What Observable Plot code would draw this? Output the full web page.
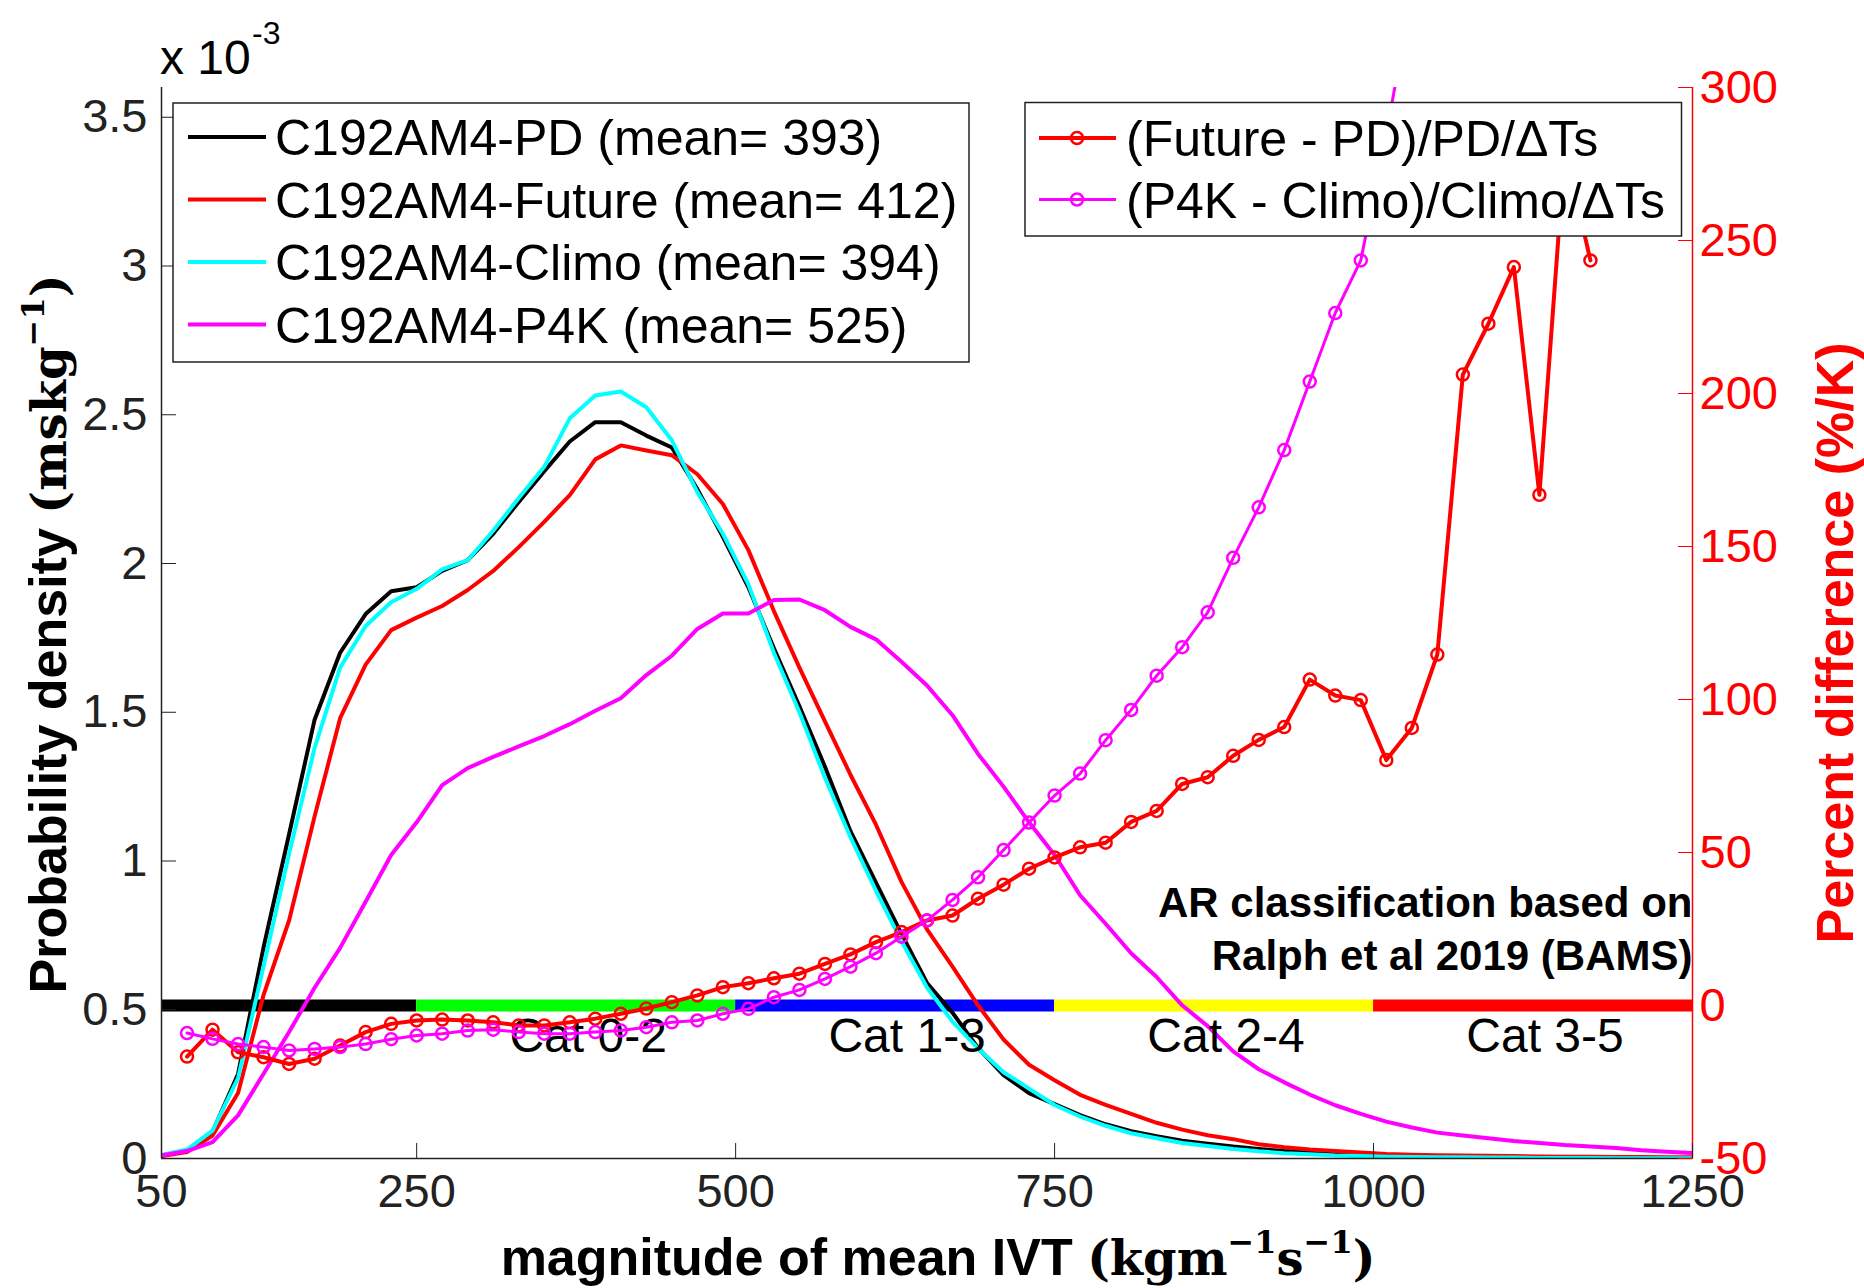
<!DOCTYPE html>
<html>
<head>
<meta charset="utf-8">
<script src="https://cdn.jsdelivr.net/npm/d3@7"></script>
<script src="https://cdn.jsdelivr.net/npm/@observablehq/plot@0.6"></script>
<style>
  html, body { margin: 0; padding: 0; background: #fff; }
  svg { display: block; }
</style>
</head>
<body>
<div id="chart"></div>
<script>
// ---------- data ----------
const ivt = [50, 70, 90, 110, 130, 150, 170, 190, 210, 230,
  250, 270, 290, 310, 330, 350, 370, 390, 410, 430,
  450, 470, 490, 510, 530, 550, 570, 590, 610, 630,
  650, 670, 690, 710, 730, 750, 770, 790, 810, 830,
  850, 870, 890, 910, 930, 950, 970, 990, 1010, 1030,
  1050, 1070, 1090, 1110, 1130, 1150, 1170, 1190, 1210, 1230, 1250];

// probability density (x 1e-3)
const densPD = [0.010, 0.025, 0.090, 0.284, 0.710, 1.090, 1.475, 1.700, 1.830, 1.907,
  1.920, 1.975, 2.011, 2.100, 2.207, 2.310, 2.410, 2.475, 2.475, 2.430,
  2.390, 2.250, 2.090, 1.920, 1.715, 1.520, 1.317, 1.100, 0.927, 0.755,
  0.590, 0.490, 0.372, 0.280, 0.220, 0.183, 0.146, 0.115, 0.092, 0.075,
  0.060, 0.050, 0.040, 0.032, 0.025, 0.020, 0.015, 0.012, 0.010, 0.008,
  0.007, 0.006, 0.005, 0.005, 0.004, 0.004, 0.003, 0.003, 0.002, 0.002, 0.002];
const densFuture = [0.008, 0.022, 0.077, 0.220, 0.550, 0.800, 1.150, 1.480, 1.660, 1.776,
  1.818, 1.857, 1.911, 1.975, 2.055, 2.140, 2.230, 2.350, 2.397, 2.380,
  2.364, 2.300, 2.200, 2.045, 1.840, 1.650, 1.469, 1.290, 1.122, 0.930,
  0.770, 0.645, 0.515, 0.400, 0.315, 0.263, 0.214, 0.180, 0.150, 0.120,
  0.097, 0.078, 0.065, 0.048, 0.038, 0.030, 0.025, 0.020, 0.015, 0.013,
  0.011, 0.010, 0.009, 0.008, 0.007, 0.006, 0.006, 0.005, 0.005, 0.004, 0.004];
const densClimo = [0.012, 0.030, 0.094, 0.270, 0.647, 1.024, 1.380, 1.650, 1.790, 1.870,
  1.915, 1.980, 2.011, 2.110, 2.220, 2.325, 2.488, 2.565, 2.578, 2.525,
  2.414, 2.240, 2.100, 1.930, 1.700, 1.500, 1.280, 1.080, 0.900, 0.730,
  0.575, 0.460, 0.370, 0.290, 0.235, 0.180, 0.141, 0.110, 0.085, 0.068,
  0.052, 0.042, 0.032, 0.024, 0.018, 0.014, 0.010, 0.008, 0.006, 0.005,
  0.004, 0.004, 0.003, 0.003, 0.002, 0.002, 0.002, 0.001, 0.001, 0.001, 0.001];
const densP4K = [0.010, 0.025, 0.055, 0.145, 0.285, 0.425, 0.574, 0.708, 0.863, 1.020,
  1.130, 1.255, 1.312, 1.350, 1.385, 1.420, 1.460, 1.505, 1.547, 1.625,
  1.690, 1.780, 1.832, 1.832, 1.877, 1.879, 1.843, 1.787, 1.745, 1.670,
  1.590, 1.490, 1.360, 1.250, 1.130, 1.020, 0.885, 0.789, 0.690, 0.610,
  0.515, 0.445, 0.360, 0.300, 0.256, 0.215, 0.179, 0.150, 0.124, 0.104,
  0.087, 0.077, 0.068, 0.059, 0.052, 0.045, 0.040, 0.035, 0.028, 0.023, 0.018];

const densityLabels = ["C192AM4-PD (mean= 393)", "C192AM4-Future (mean= 412)",
  "C192AM4-Climo (mean= 394)", "C192AM4-P4K (mean= 525)"];
const densityColors = ["#000000", "#ff0000", "#00ffff", "#ff00ff"];
const densityValues = [densPD, densFuture, densClimo, densP4K];

// percent difference (%/K)
const pctX = [70, 90, 110, 130, 150, 170, 190, 210, 230, 250,
  270, 290, 310, 330, 350, 370, 390, 410, 430, 450,
  470, 490, 510, 530, 550, 570, 590, 610, 630, 650,
  670, 690, 710, 730, 750, 770, 790, 810, 830, 850,
  870, 890, 910, 930, 950, 970, 990, 1010, 1030, 1050,
  1070, 1090, 1110, 1130, 1150, 1170];
const pctFuturePD = [-16.7, -7.9, -15.3, -16.9, -19.1, -17.4, -13.1, -8.7, -6.0, -4.9,
  -4.6, -4.9, -5.5, -6.5, -6.5, -5.5, -4.3, -2.7, -1.0, 1.1,
  3.3, 6.0, 7.3, 8.9, 10.4, 13.6, 16.7, 20.7, 24.0, 27.8,
  29.4, 34.9, 39.5, 44.7, 48.4, 51.7, 53.2, 60.0, 63.6, 72.4,
  74.6, 81.6, 86.8, 91.0, 106.5, 101.3, 99.8, 80.2, 90.7, 114.7,
  206.2, 222.8, 241.3, 166.9, 280.0, 243.5];
const pctP4KClimo = [-9.0, -10.9, -12.6, -13.6, -14.7, -14.2, -13.6, -12.6, -11.0, -9.8,
  -9.2, -8.2, -7.9, -8.7, -9.2, -9.2, -8.7, -8.2, -7.1, -5.5,
  -4.9, -2.7, -1.1, 2.7, 5.1, 8.7, 12.7, 17.1, 22.5, 27.8,
  34.5, 41.9, 50.8, 59.8, 68.6, 75.8, 86.7, 96.6, 107.8, 117.1,
  128.5, 146.3, 162.8, 181.5, 203.9, 226.3, 243.5, 285.0, 330.0];

const pctLabels = ["(Future - PD)/PD/\u0394Ts", "(P4K - Climo)/Climo/\u0394Ts"];
const pctColors = ["#ff0000", "#ff00ff"];
const pctValues = [pctFuturePD, pctP4KClimo];
const pctWidths = [4, 3];

// AR categories (Ralph et al. 2019)
const catStart = [50, 250, 500, 750, 1000];
const catEnd = [250, 500, 750, 1000, 1250];
const catColors = ["#000000", "#00ff00", "#0000ff", "#ffff00", "#ff0000"];
const catLabels = ["", "Cat 0-2", "Cat 1-3", "Cat 2-4", "Cat 3-5"];

// tick labels
const xTicks = [50, 250, 500, 750, 1000, 1250];
const leftTicks = [0, 0.5, 1, 1.5, 2, 2.5, 3, 3.5];
const rightTicks = [-50, 0, 50, 100, 150, 200, 250, 300];
const noteLines = ["AR classification based on", "Ralph et al 2019 (BAMS)"];

// ---------- helpers ----------
const sans = "'Liberation Sans', Arial, Helvetica, sans-serif";
const serif = "'DejaVu Serif', 'Liberation Serif', serif";
const densMax = 3.6, pctMin = -50, pctMax = 300;
const toLeft = p => (p - pctMin) / (pctMax - pctMin) * densMax;
const fromLeft = v => v / densMax * (pctMax - pctMin) + pctMin;
const axisColor = "#222";

const densityRows = densityValues.map((vals, k) =>
  vals.map((v, i) => ({x: ivt[i], y: v, color: densityColors[k]})));
const pctRows = pctValues.map((vals, k) =>
  vals.map((v, i) => ({x: pctX[i], y: toLeft(v), color: pctColors[k]})));
const cats = catStart.map((s, i) => ({lo: s, hi: catEnd[i], color: catColors[i], label: catLabels[i]}));
const barLevel = toLeft(0);

const marks = [];
marks.push(Plot.ruleY(cats, {y: () => barLevel, x1: "lo", x2: "hi", stroke: "color", strokeWidth: 12}));
densityRows.forEach((rows, k) => {
  marks.push(Plot.line(rows, {x: "x", y: "y", stroke: densityColors[k], strokeWidth: 4, clip: true}));
});
marks.push(Plot.text(cats.filter(d => d.label), {
  x: d => (d.lo + d.hi) / 2, y: () => barLevel, text: "label",
  dx: 12, dy: 12, lineAnchor: "top", fontSize: 48, fontFamily: sans, fill: "#000"
}));
pctRows.forEach((rows, k) => {
  marks.push(Plot.line(rows, {x: "x", y: "y", stroke: pctColors[k], strokeWidth: pctWidths[k], clip: true}));
  marks.push(Plot.dot(rows, {x: "x", y: "y", r: 6, stroke: pctColors[k], strokeWidth: 2.5, fill: "none", clip: true}));
});
marks.push(Plot.text([noteLines.join("\n")], {
  text: d => d, frameAnchor: "bottom-right", textAnchor: "end", lineAnchor: "bottom",
  dy: -189, lineHeight: 1.26, fontSize: 42, fontWeight: "bold", fontFamily: sans, fill: "#000"
}));
// axes
marks.push(Plot.ruleX([50], {stroke: axisColor, strokeWidth: 1.5}));
marks.push(Plot.ruleX([1250], {stroke: "#ff0000", strokeWidth: 1.5}));
marks.push(Plot.ruleY([0], {stroke: axisColor, strokeWidth: 1.5}));
marks.push(Plot.axisX(xTicks, {anchor: "bottom", tickSize: -15, tickPadding: 30, fontSize: 47,
  fontFamily: sans, color: axisColor, tickFormat: d => String(d), label: null}));
marks.push(Plot.axisY(leftTicks, {anchor: "left", tickSize: -15, tickPadding: 29, fontSize: 47,
  fontFamily: sans, color: axisColor, tickFormat: d => String(d), label: null}));
marks.push(Plot.axisY(rightTicks.map(toLeft), {anchor: "right", tickSize: -15, tickPadding: 22, fontSize: 47,
  fontFamily: sans, color: "#ff0000", tickFormat: d => String(Math.round(fromLeft(d))), label: null}));

const plot = Plot.plot({
  width: 1864, height: 1288,
  marginLeft: 161, marginRight: 172, marginTop: 87, marginBottom: 130,
  x: {domain: [50, 1250]},
  y: {domain: [0, densMax]},
  color: {type: "identity"},
  style: {fontFamily: sans, fontSize: "47px", background: "#fff", overflow: "visible"},
  marks
});
document.getElementById("chart").appendChild(plot);

// ---------- annotations, titles, legends ----------
const svg = d3.select(plot);

// exponent label
svg.append("text").attr("x", 160).attr("y", 74).attr("text-anchor", "start")
  .attr("font-family", sans).attr("font-size", 48).attr("fill", "#000").text("x 10");
svg.append("text").attr("x", 252).attr("y", 44).attr("text-anchor", "start")
  .attr("font-family", sans).attr("font-size", 32).attr("fill", "#000").text("-3");

// left y title
const yt = svg.append("text").attr("transform", "translate(66,634) rotate(-90)")
  .attr("text-anchor", "middle").attr("fill", "#000").attr("font-weight", "bold");
yt.append("tspan").attr("font-family", sans).attr("font-size", 52).text("Probability density ");
yt.append("tspan").attr("font-family", serif).attr("font-size", 48).text("(mskg");
yt.append("tspan").attr("font-family", serif).attr("font-size", 32).attr("dy", -22).text("\u22121");
yt.append("tspan").attr("font-family", serif).attr("font-size", 48).attr("dy", 22).text(")");

// right y title
svg.append("text").attr("transform", "translate(1853,643) rotate(-90)")
  .attr("text-anchor", "middle").attr("fill", "#ff0000").attr("font-weight", "bold")
  .attr("font-family", sans).attr("font-size", 52).text("Percent difference (%/K)");

// x title
const xt = svg.append("text").attr("x", 938).attr("y", 1275)
  .attr("text-anchor", "middle").attr("fill", "#000").attr("font-weight", "bold");
xt.append("tspan").attr("font-family", sans).attr("font-size", 52).text("magnitude of mean IVT ");
xt.append("tspan").attr("font-family", serif).attr("font-size", 48).text("(kgm");
xt.append("tspan").attr("font-family", serif).attr("font-size", 32).attr("dy", -22).text("\u22121");
xt.append("tspan").attr("font-family", serif).attr("font-size", 48).attr("dy", 22).text("s");
xt.append("tspan").attr("font-family", serif).attr("font-size", 32).attr("dy", -22).text("\u22121");
xt.append("tspan").attr("font-family", serif).attr("font-size", 48).attr("dy", 22).text(")");

// legend 1 (densities)
const lg1 = svg.append("g").attr("text-anchor", "start");
lg1.append("rect").attr("x", 173).attr("y", 103).attr("width", 796).attr("height", 259)
  .attr("fill", "#fff").attr("stroke", axisColor).attr("stroke-width", 1.5);
densityLabels.forEach((lab, i) => {
  const yy = 137 + i * 62.5;
  lg1.append("line").attr("x1", 188).attr("x2", 266).attr("y1", yy).attr("y2", yy)
    .attr("stroke", densityColors[i]).attr("stroke-width", 4);
  lg1.append("text").attr("x", 275).attr("y", yy + 18).attr("text-anchor", "start")
    .attr("font-family", sans).attr("font-size", 50).attr("fill", "#000").text(lab);
});

// legend 2 (percent differences)
const lg2 = svg.append("g").attr("text-anchor", "start");
lg2.append("rect").attr("x", 1025).attr("y", 102.5).attr("width", 656.5).attr("height", 133.5)
  .attr("fill", "#fff").attr("stroke", axisColor).attr("stroke-width", 1.5);
pctLabels.forEach((lab, i) => {
  const yy = 138 + i * 61.5;
  lg2.append("line").attr("x1", 1039).attr("x2", 1116).attr("y1", yy).attr("y2", yy)
    .attr("stroke", pctColors[i]).attr("stroke-width", pctWidths[i]);
  lg2.append("circle").attr("cx", 1077).attr("cy", yy).attr("r", 6)
    .attr("fill", "none").attr("stroke", pctColors[i]).attr("stroke-width", 2.5);
  lg2.append("text").attr("x", 1126).attr("y", yy + 18).attr("text-anchor", "start")
    .attr("font-family", sans).attr("font-size", 50).attr("fill", "#000").text(lab);
});
</script>
</body>
</html>
